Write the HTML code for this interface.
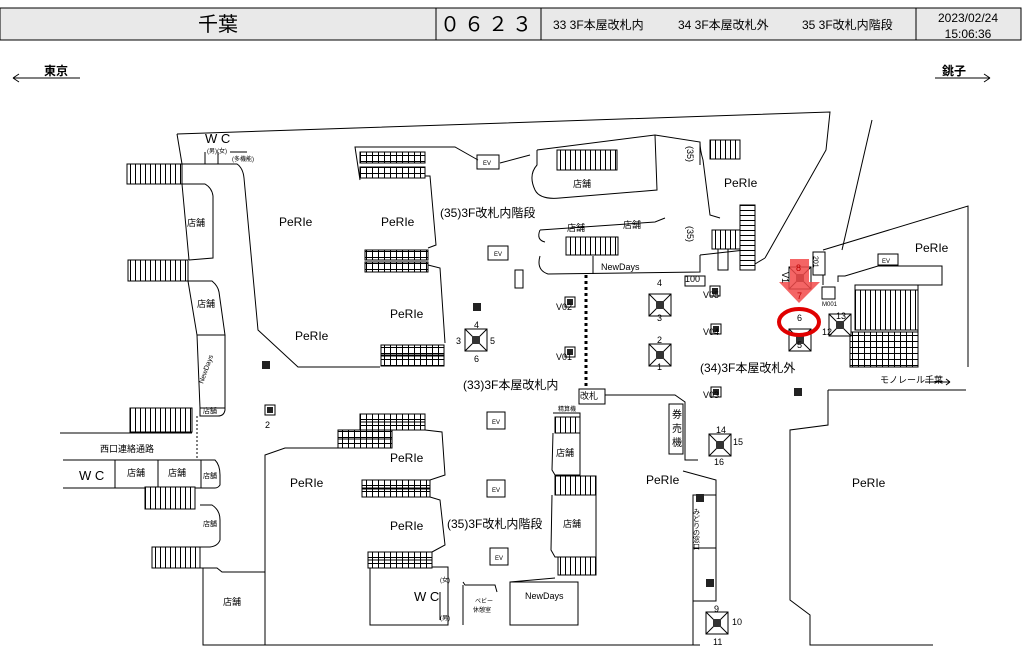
<!DOCTYPE html>
<html><head><meta charset="utf-8"><style>
body{margin:0;background:#fff;width:1024px;height:659px;overflow:hidden;font-family:"Liberation Sans","Noto Sans CJK JP",sans-serif}
svg text{font-family:"Liberation Sans","Noto Sans CJK JP",sans-serif}
</style></head><body>
<svg width="1024" height="659" viewBox="0 0 1024 659" xmlns="http://www.w3.org/2000/svg">
<defs>
<pattern id="st" width="5" height="10" patternUnits="userSpaceOnUse"><rect width="5" height="10" fill="#fff"/><line x1="0.5" y1="0" x2="0.5" y2="10" stroke="#000" stroke-width="1"/></pattern>
<pattern id="es" width="6" height="6" patternUnits="userSpaceOnUse"><rect width="6" height="6" fill="#fff"/><line x1="0.5" y1="0" x2="0.5" y2="6" stroke="#000"/><line x1="0" y1="5.5" x2="6" y2="5.5" stroke="#000"/></pattern>
<pattern id="vs" width="10" height="5" patternUnits="userSpaceOnUse"><rect width="10" height="5" fill="#fff"/><line x1="0" y1="0.5" x2="10" y2="0.5" stroke="#000"/></pattern>
<g id="cam"><rect x="-5" y="-5" width="10" height="10" fill="#fff" stroke="#000"/><rect x="-3" y="-3" width="6" height="6" fill="#222"/></g>
<g id="sq"><rect x="-4" y="-4" width="8" height="8" fill="#222"/></g>
<g id="spk"><rect x="-11" y="-11" width="22" height="22" fill="#fff" stroke="#000"/><line x1="-11" y1="-11" x2="11" y2="11" stroke="#000"/><line x1="11" y1="-11" x2="-11" y2="11" stroke="#000"/><rect x="-4" y="-4" width="8" height="8" fill="#333"/></g>
</defs>

<rect x="0" y="8" width="1021" height="32" fill="#e9e9e9" stroke="#000" stroke-width="1"/>
<line x1="436" y1="8" x2="436" y2="40" stroke="#000"/>
<line x1="541" y1="8" x2="541" y2="40" stroke="#000"/>
<line x1="916" y1="8" x2="916" y2="40" stroke="#000"/>
<text x="218" y="31" font-size="20" text-anchor="middle">千葉</text>
<text x="488" y="31" font-size="20" text-anchor="middle" letter-spacing="4">０６２３</text>
<text x="553" y="29" font-size="12">33 3F本屋改札内</text>
<text x="678" y="29" font-size="12">34 3F本屋改札外</text>
<text x="802" y="29" font-size="12">35 3F改札内階段</text>
<text x="968" y="22" font-size="12" text-anchor="middle">2023/02/24</text>
<text x="968" y="38" font-size="12" text-anchor="middle">15:06:36</text>

<text x="44" y="75" font-size="12" font-weight="bold">東京</text>
<path d="M13,78 H80 M13,78 l6,-4 M13,78 l6,4" stroke="#000" fill="none"/>
<text x="942" y="75" font-size="12" font-weight="bold">銚子</text>
<path d="M935,78 H990 M990,78 l-6,-4 M990,78 l-6,4" stroke="#000" fill="none"/>

<g stroke="#000" fill="none" stroke-width="1">
<path d="M177,134 L830,112 L826,150 L765,258"/>
<path d="M872,120 L842,250"/>
<path d="M177,134 L182,164"/>
<!-- west corridor -->
<path d="M182,164 L237,164 Q243,168 244,178 L258,330 L298,367 L380,367"/>
<path d="M205,164 L205,152 M218,164 L218,152 M230,152 L247,152"/>
<path d="M182,184 L189,260"/>
<path d="M182,184 L205,184 Q212,188 213,196 L213,258 L189,260"/>
<path d="M188,281 L197,335 L200,408"/>
<path d="M188,281 L212,281 Q218,286 219,292 L225,335 L197,335"/>
<path d="M225,335 L225,410 Q224,416 218,416 L200,416 L200,408 L225,408"/>
<line x1="197" y1="416" x2="197" y2="460" stroke-dasharray="2,2"/>
<path d="M60,433 L192,433"/>
<path d="M63,460 L215,460 Q220,465 220,475 L220,485 Q218,488 215,488 L63,488"/>
<line x1="115" y1="460" x2="115" y2="488"/>
<line x1="158" y1="460" x2="158" y2="488"/>
<line x1="201" y1="460" x2="201" y2="488"/>
<path d="M200,505 L212,505 Q220,510 220,520 L220,540 Q218,546 210,547 L200,547"/>
<path d="M200,568 L217,568 L222,572 L265,572 L265,455 L285,448 L340,448"/>
<path d="M203,568 L203,645 L700,645"/>
<line x1="265" y1="572" x2="265" y2="645"/>
<!-- central PeRIe -->
<path d="M360,180 L355,147 L455,147 L478,160"/>
<path d="M500,163 L530,155"/>
<path d="M425,176 L430,176 L436,245 L428,248"/>
<path d="M428,265 L440,268 L445,343"/>
<path d="M425,430 L442,432 L445,475 L430,480"/>
<path d="M430,497 L440,500 L445,545 L432,552"/>
<path d="M370,567 L448,567 L448,625 L370,625 Z"/>
<path d="M463,582 L465,585 L495,585 L497,592"/>
<line x1="463" y1="585" x2="463" y2="625"/>
<path d="M510,625 L510,582 L578,582 L578,625 Z"/>
<path d="M440,592 L440,620"/>
<path d="M537,150 L655,135 L700,142 L700,165"/>
<path d="M537,150 L537,165 Q528,175 535,190 Q540,200 560,198 L657,190 L655,135"/>
<path d="M540,230 L655,222 L665,218"/>
<path d="M540,230 Q536,240 545,242"/>
<path d="M540,256 Q536,270 548,274 L700,272 L700,255"/>
<line x1="593" y1="256" x2="593" y2="274"/>
<path d="M700,142 Q700,150 703,160 L710,215 L720,218"/>
<path d="M700,255 L745,250"/>
<path d="M745,270 L765,258"/>
<line x1="586" y1="275" x2="586" y2="389" stroke-dasharray="3,3" stroke-width="3"/>
<rect x="579" y="389" width="26" height="15"/>
<path d="M605,395 L675,395 L685,402 L685,460 L698,460"/>
<rect x="669" y="404" width="14" height="50"/>
<path d="M683,471 L716,480 L716,585"/>
<rect x="693" y="495" width="23" height="53"/>
<rect x="693" y="548" width="23" height="53"/>
<line x1="693" y1="601" x2="693" y2="645"/>
<path d="M553,413 L580,413 L580,420"/>
<path d="M553,433 L552,470 L555,475 L580,475 L580,433"/>
<path d="M552,495 L551,550 L555,557 L596,557 L596,495"/>
<path d="M555,578 L510,582"/>
<!-- right region -->
<path d="M823,250 L968,206 L968,367"/>
<rect x="813" y="252" width="12" height="23"/>
<path d="M823,275 L823,285"/>
<path d="M838,282 L838,276 L845,276 L878,266 L942,266 L942,285 L855,285 L855,290"/>
<rect x="822" y="287" width="13" height="12"/>
<rect x="878" y="254" width="20" height="11"/>
<line x1="918" y1="285" x2="918" y2="367"/>
<path d="M828,390 L966,390"/>
<path d="M828,390 L828,425 L790,430 L790,600 L810,615 L810,645 L933,645"/>
<path d="M925,382 L950,382 M950,382 l-4,-3 M950,382 l-4,3"/>
<rect x="685" y="276" width="20" height="10"/>
<rect x="487" y="412" width="18" height="17"/>
<rect x="487" y="480" width="18" height="17"/>
<rect x="490" y="548" width="18" height="17"/>
<rect x="488" y="246" width="20" height="14"/>
<rect x="477" y="155" width="22" height="14"/>
<rect x="515" y="270" width="8" height="18"/>
<rect x="718" y="248" width="10" height="22"/>
</g>

<g stroke="#000" stroke-width="1">
<rect x="127" y="164" width="55" height="20" fill="url(#st)"/>
<rect x="128" y="260" width="60" height="21" fill="url(#st)"/>
<rect x="130" y="408" width="62" height="24" fill="url(#st)"/>
<rect x="145" y="487" width="50" height="22" fill="url(#st)"/>
<rect x="152" y="547" width="48" height="21" fill="url(#st)"/>
<rect x="360" y="152" width="65" height="11" fill="url(#es)"/>
<rect x="360" y="167" width="65" height="11" fill="url(#es)"/>
<rect x="365" y="250" width="63" height="10" fill="url(#es)"/>
<rect x="365" y="262" width="63" height="10" fill="url(#es)"/>
<rect x="381" y="345" width="63" height="10" fill="url(#es)"/>
<rect x="381" y="356" width="63" height="10" fill="url(#es)"/>
<rect x="360" y="414" width="65" height="8" fill="url(#es)"/>
<rect x="360" y="422" width="65" height="8" fill="url(#es)"/>
<rect x="338" y="430" width="54" height="9" fill="url(#es)"/>
<rect x="338" y="439" width="54" height="9" fill="url(#es)"/>
<rect x="362" y="480" width="68" height="8" fill="url(#es)"/>
<rect x="362" y="489" width="68" height="8" fill="url(#es)"/>
<rect x="368" y="552" width="64" height="8" fill="url(#es)"/>
<rect x="368" y="560" width="64" height="8" fill="url(#es)"/>
<rect x="557" y="150" width="60" height="20" fill="url(#st)"/>
<rect x="566" y="237" width="52" height="18" fill="url(#st)"/>
<rect x="710" y="140" width="30" height="19" fill="url(#st)"/>
<rect x="712" y="230" width="28" height="19" fill="url(#st)"/>
<rect x="740" y="205" width="15" height="65" fill="url(#vs)"/>
<rect x="555" y="417" width="25" height="16" fill="url(#st)"/>
<rect x="555" y="476" width="41" height="19" fill="url(#st)"/>
<rect x="558" y="557" width="38" height="18" fill="url(#st)"/>
<rect x="855" y="290" width="63" height="40" fill="url(#st)"/>
<rect x="850" y="332" width="68" height="35" fill="url(#es)"/>
</g>

<use href="#spk" x="476" y="340"/>
<use href="#spk" x="660" y="305"/>
<use href="#spk" x="660" y="355"/>
<use href="#spk" x="720" y="445"/>
<use href="#spk" x="717" y="623"/>
<use href="#spk" x="800" y="340"/>
<use href="#spk" x="840" y="325"/>
<use href="#sq" x="266" y="365"/>
<use href="#sq" x="477" y="307"/>
<use href="#sq" x="798" y="392"/>
<use href="#sq" x="710" y="583"/>
<use href="#cam" x="570" y="302"/>
<use href="#cam" x="570" y="352"/>
<use href="#cam" x="715" y="291"/>
<use href="#cam" x="716" y="329"/>
<use href="#cam" x="716" y="392"/>
<use href="#cam" x="270" y="410"/>
<rect x="696" y="494" width="8" height="8" fill="#222"/>

<use href="#spk" x="800" y="278"/>
<path d="M790,259 L809,259 L809,282 L820,282 L799,303 L779,282 L790,282 Z" fill="#f24a4a" opacity="0.85"/>
<text x="796" y="271" font-size="9" fill="#b00">8</text>
<text x="797" y="299" font-size="9" fill="#b00">7</text>
<text x="782" y="272" font-size="9" transform="rotate(90 782 272)">V1</text>
<ellipse cx="799" cy="322" rx="20" ry="13" fill="none" stroke="#e00000" stroke-width="4"/>

<g font-size="12" fill="#000">
<text x="279" y="226">PeRIe</text>
<text x="381" y="226">PeRIe</text>
<text x="295" y="340">PeRIe</text>
<text x="390" y="318">PeRIe</text>
<text x="724" y="187">PeRIe</text>
<text x="915" y="252">PeRIe</text>
<text x="290" y="487">PeRIe</text>
<text x="390" y="462">PeRIe</text>
<text x="390" y="530">PeRIe</text>
<text x="646" y="484">PeRIe</text>
<text x="852" y="487">PeRIe</text>
<text x="440" y="217">(35)3F改札内階段</text>
<text x="447" y="528">(35)3F改札内階段</text>
<text x="463" y="389">(33)3F本屋改札内</text>
<text x="700" y="372">(34)3F本屋改札外</text>
<text x="205" y="143" font-size="13">W C</text>
<text x="414" y="601" font-size="13">W C</text>
<text x="79" y="480" font-size="13">W C</text>
</g>
<g font-size="9" fill="#000">
<text x="187" y="226">店舗</text>
<text x="197" y="307">店舗</text>
<text x="203" y="413" font-size="7">店舗</text>
<text x="127" y="476">店舗</text>
<text x="168" y="476">店舗</text>
<text x="203" y="478" font-size="7">店舗</text>
<text x="203" y="526" font-size="7">店舗</text>
<text x="223" y="605">店舗</text>
<text x="573" y="187">店舗</text>
<text x="567" y="231">店舗</text>
<text x="623" y="228">店舗</text>
<text x="556" y="456">店舗</text>
<text x="563" y="527">店舗</text>
<text x="601" y="270">NewDays</text>
<text x="525" y="599">NewDays</text>
<text x="100" y="452">西口連絡通路</text>
<text x="580" y="399">改札</text>
<text x="880" y="383">モノレール千葉</text>
<text x="685" y="282">100</text>
<text x="207" y="153" font-size="6">(男)(女)</text>
<text x="232" y="161" font-size="6">(多機能)</text>
<text x="440" y="582" font-size="6">(女)</text>
<text x="440" y="620" font-size="6">(男)</text>
<text x="475" y="603" font-size="6">ベビー</text>
<text x="473" y="612" font-size="6">休憩室</text>
<text x="558" y="411" font-size="6">精算機</text>
<text x="822" y="306" font-size="6">M001</text>
<text x="815" y="256" font-size="7" writing-mode="tb">201</text>
<text x="483" y="165" font-size="6">EV</text>
<text x="494" y="256" font-size="6">EV</text>
<text x="492" y="424" font-size="6">EV</text>
<text x="492" y="492" font-size="6">EV</text>
<text x="495" y="560" font-size="6">EV</text>
<text x="882" y="263" font-size="6">EV</text>
<text x="672" y="418" font-size="10">券</text>
<text x="672" y="432" font-size="10">売</text>
<text x="672" y="446" font-size="10">機</text>
<text x="696" y="508" font-size="7" writing-mode="tb">みどりの窓口</text>
<text x="203" y="384" font-size="7" transform="rotate(-70 203 384)">NewDays</text>
<text x="690" y="146" writing-mode="tb" font-size="9">(35)</text>
<text x="690" y="226" writing-mode="tb" font-size="9">(35)</text>
<text x="474" y="328">4</text><text x="474" y="362">6</text><text x="456" y="344">3</text><text x="490" y="344">5</text>
<text x="657" y="286">4</text><text x="657" y="321">3</text>
<text x="657" y="343">2</text><text x="657" y="370">1</text>
<text x="716" y="433">14</text><text x="714" y="465">16</text><text x="733" y="445">15</text>
<text x="714" y="612">9</text><text x="713" y="645">11</text><text x="732" y="625">10</text>
<text x="797" y="321">6</text><text x="797" y="348">5</text>
<text x="836" y="319">13</text><text x="822" y="335">12</text>
<text x="265" y="428">2</text>
<text x="556" y="310">V02</text><text x="556" y="360">V01</text>
<text x="703" y="298">V05</text><text x="703" y="335">V04</text><text x="703" y="398">V03</text>
</g>
</svg>
</body></html>
